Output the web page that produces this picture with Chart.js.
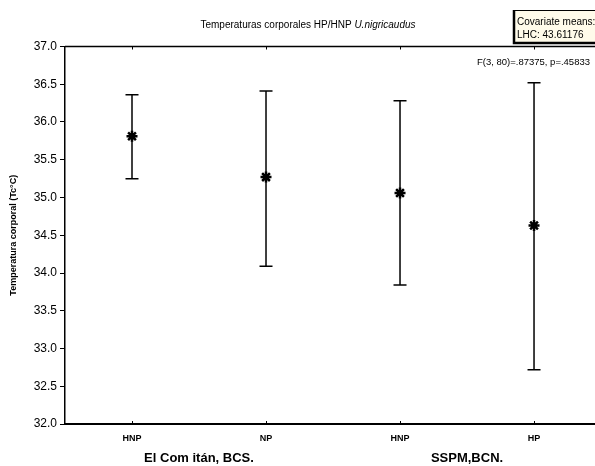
<!DOCTYPE html>
<html>
<head>
<meta charset="utf-8">
<script src="https://cdn.jsdelivr.net/npm/chart.js@4/dist/chart.umd.min.js"></script>
<style>
  body { margin: 0; background: #fff; }
  canvas { display: block; }
</style>
</head>
<body>
<canvas id="chartTc" width="595" height="466"></canvas>
<script>
// Temperatura corporal media (Tc °C) por grupo, con intervalos.
const categories = ['HNP', 'NP', 'HNP', 'HP'];
const groups = ['El Com itán, BCS.', 'SSPM,BCN.'];
const means = [35.81, 35.27, 35.06, 34.63];
const upper = [36.36, 36.41, 36.28, 36.52];
const lower = [35.25, 34.09, 33.84, 32.72];
const yTicks = [32.0, 32.5, 33.0, 33.5, 34.0, 34.5, 35.0, 35.5, 36.0, 36.5, 37.0];

const FONT = "'Liberation Sans', Arial, sans-serif";

const xs = categories.map((_, i) => i + 1);

// marcos, textos sueltos y recuadro de covariable
const decoPlugin = {
  id: 'deco',
  afterDraw(chart) {
    const { ctx, chartArea } = chart;
    const x = chart.scales.x;
    ctx.save();
    ctx.strokeStyle = '#000';

    // línea superior del marco
    ctx.lineWidth = 1.5;
    ctx.beginPath();
    ctx.moveTo(chartArea.left, chartArea.top);
    ctx.lineTo(chart.width, chartArea.top);
    ctx.stroke();

    // marcas hacia dentro, arriba y abajo
    ctx.lineWidth = 1;
    for (const v of xs) {
      const px = Math.round(x.getPixelForValue(v)) + 0.5;
      ctx.beginPath();
      ctx.moveTo(px, chartArea.top);
      ctx.lineTo(px, chartArea.top + 3);
      ctx.moveTo(px, chartArea.bottom);
      ctx.lineTo(px, chartArea.bottom - 3);
      ctx.stroke();
    }

    ctx.fillStyle = '#000';
    ctx.textBaseline = 'middle';

    // título
    const t1 = 'Temperaturas corporales HP/HNP ';
    const t2 = 'U.nigricaudus';
    ctx.font = '10px ' + FONT;
    const w1 = ctx.measureText(t1).width;
    ctx.font = 'italic 10px ' + FONT;
    const w2 = ctx.measureText(t2).width;
    let tx = 308 - (w1 + w2) / 2;
    ctx.textAlign = 'left';
    ctx.font = '10px ' + FONT;
    ctx.fillText(t1, tx, 25);
    ctx.font = 'italic 10px ' + FONT;
    ctx.fillText(t2, tx + w1, 25);

    // estadístico
    ctx.font = '9.5px ' + FONT;
    ctx.textAlign = 'right';
    ctx.fillText('F(3, 80)=.87375, p=.45833', 590, 62);

    // recuadro de medias de covariable
    ctx.fillStyle = '#fffbea';
    ctx.fillRect(513, 10, 90, 33);
    ctx.lineWidth = 1;
    ctx.strokeRect(513.5, 10.5, 90, 32);
    ctx.lineWidth = 2.5;
    ctx.beginPath();
    ctx.moveTo(514, 10);
    ctx.lineTo(514, 43);
    ctx.lineTo(600, 43);
    ctx.stroke();
    ctx.fillStyle = '#000';
    ctx.textAlign = 'left';
    ctx.font = '10px ' + FONT;
    ctx.fillText('Covariate means:', 517, 22.5);
    ctx.fillText('LHC: 43.61176', 517, 35);

    // etiquetas de grupo
    ctx.font = 'bold 13px ' + FONT;
    ctx.textAlign = 'center';
    const g1 = (x.getPixelForValue(1) + x.getPixelForValue(2)) / 2;
    const g2 = (x.getPixelForValue(3) + x.getPixelForValue(4)) / 2;
    ctx.fillText(groups[0], g1, 458);
    ctx.fillText(groups[1], g2, 458);

    ctx.restore();
  },
};

new Chart(document.getElementById('chartTc'), {
  type: 'scatter',
  data: {
    datasets: [
      {
        // barras verticales del intervalo
        type: 'line',
        data: xs.flatMap((v, i) => [
          { x: v, y: lower[i] },
          { x: v, y: upper[i] },
          { x: v, y: null },
        ]),
        borderColor: '#000',
        borderWidth: 1.5,
        pointRadius: 0,
        spanGaps: false,
        fill: false,
      },
      {
        // topes
        data: xs.flatMap((v, i) => [{ x: v, y: lower[i] }, { x: v, y: upper[i] }]),
        pointStyle: 'line',
        pointRadius: 6.5,
        borderColor: '#000',
        borderWidth: 1.5,
      },
      {
        // medias
        data: xs.map((v, i) => ({ x: v, y: means[i] })),
        pointStyle: 'star',
        pointRadius: 5.5,
        borderColor: '#000',
        backgroundColor: '#000',
        borderWidth: 2.5,
      },
    ],
  },
  options: {
    responsive: false,
    animation: false,
    devicePixelRatio: 1,
    layout: { autoPadding: false, padding: { top: 46.5, left: 0, right: 0, bottom: 0 } },
    plugins: {
      legend: { display: false },
      tooltip: { enabled: false },
    },
    scales: {
      x: {
        type: 'linear',
        min: 0.5,
        max: 4.455,
        afterBuildTicks: (scale) => { scale.ticks = xs.map((v) => ({ value: v })); },
        afterFit: (scale) => {
          scale.height = 42;
          scale.paddingLeft = 0;
          scale.paddingRight = 0;
        },
        grid: { display: true, drawOnChartArea: false, drawTicks: false },
        border: { color: '#000', width: 2 },
        ticks: {
          autoSkip: false,
          maxRotation: 0,
          padding: 9,
          color: '#000',
          font: { family: FONT, size: 9, weight: 'bold' },
          callback: (value) => categories[value - 1],
        },
      },
      y: {
        min: 32,
        max: 37,
        afterBuildTicks: (scale) => { scale.ticks = yTicks.map((v) => ({ value: v })); },
        afterFit: (scale) => { scale.width = 65; },
        grid: { drawOnChartArea: false, tickLength: 5, tickColor: '#000' },
        border: { color: '#000', width: 1.5 },
        ticks: {
          padding: 3,
          color: '#000',
          font: { family: FONT, size: 12 },
          callback: (value) => Number(value).toFixed(1),
        },
        title: {
          display: true,
          text: 'Temperatura corporal (Tc°C)',
          color: '#000',
          font: { family: FONT, size: 9, weight: 'bold' },
          padding: { top: 8.6, bottom: 0 },
        },
      },
    },
  },
  plugins: [decoPlugin],
});
</script>
</body>
</html>
